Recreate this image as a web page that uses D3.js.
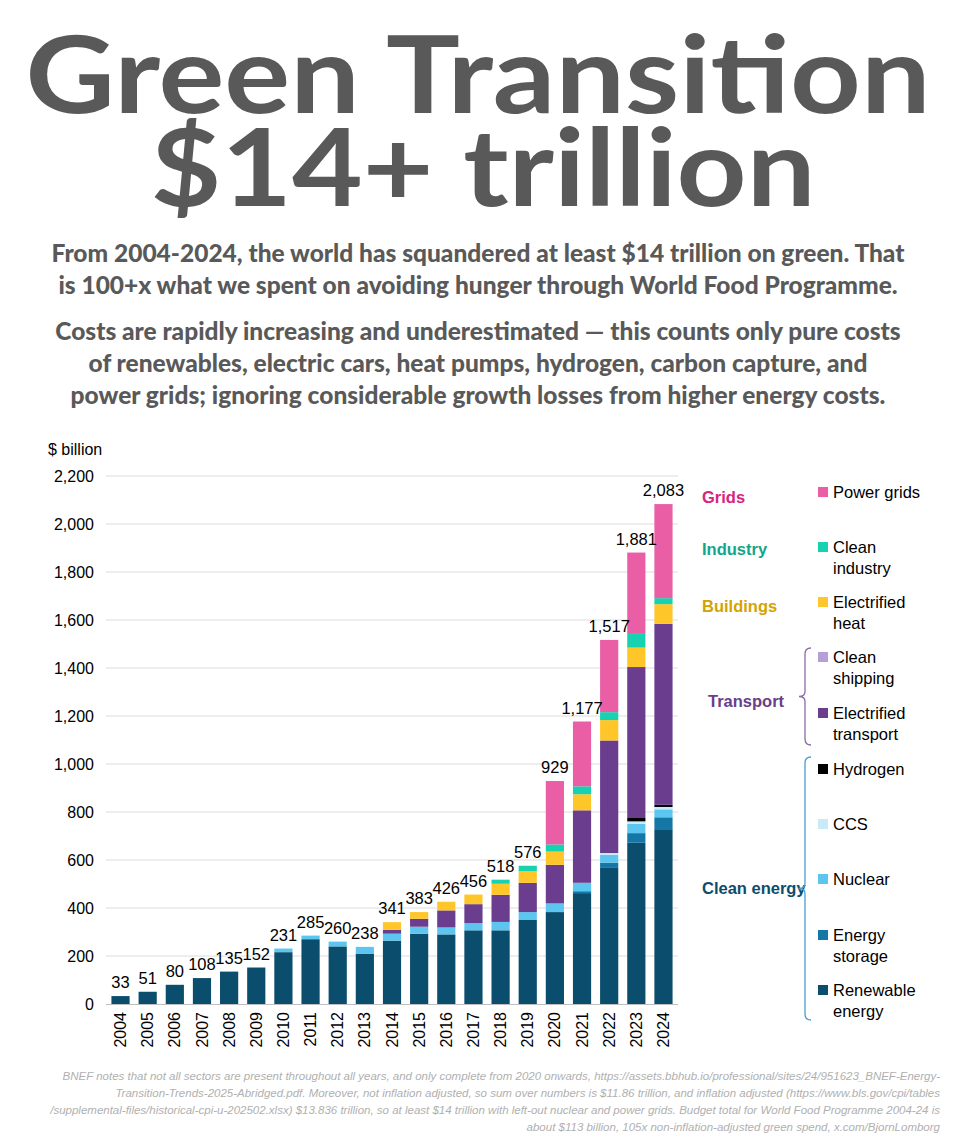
<!DOCTYPE html>
<html><head><meta charset="utf-8">
<script src="https://cdn.jsdelivr.net/npm/d3@7"></script>
<style>body{margin:0;background:#fff}</style></head>
<body><svg id="c" width="957" height="1136"></svg>
<script>
const years=["2004","2005","2006","2007","2008","2009","2010","2011","2012","2013","2014","2015","2016","2017","2018","2019","2020","2021","2022","2023","2024"];
const renewable=[33,51,80,108,135,152,216,270,240,210,264,293,290,307,307,350,383,462,567,672,725];
const storage=[0,0,0,0,0,0,0,0,0,0,0,0,0,0,0,0,0,8,22,40,53];
const nuclear=[0,0,0,0,0,0,15,15,20,28,29,29,29,30,35,33,36,35,33,39,33];
const ccs=[0,0,0,0,0,0,0,0,0,0,0,0,0,0,0,0,0,0,7,10,10];
const hydrogen=[0,0,0,0,0,0,0,0,0,0,0,0,0,0,0,0,0,0,0,14,9];
const transport=[0,0,0,0,0,0,0,0,0,0,16,33,71,79,113,122,161,302,469,629,754];
const shipping=[0,0,0,0,0,0,0,0,0,0,0,0,0,0,0,0,0,0,0,0,0];
const heat=[0,0,0,0,0,0,0,0,0,0,32,28,36,40,46,48,55,67,85,81,82];
const industry=[0,0,0,0,0,0,0,0,0,0,0,0,0,0,17,23,30,33,33,57,25];
const grids=[0,0,0,0,0,0,0,0,0,0,0,0,0,0,0,0,264,270,301,339,392];
const totals=[33,51,80,108,135,152,231,285,260,238,341,383,426,456,518,576,929,1177,1517,1881,2083];
const yTicks=[0,200,400,600,800,1000,1200,1400,1600,1800,2000,2200];
const seriesNames=["Renewable energy","Energy storage","Nuclear","CCS","Hydrogen","Electrified transport","Clean shipping","Electrified heat","Clean industry","Power grids"];
const seriesData=[renewable,storage,nuclear,ccs,hydrogen,transport,shipping,heat,industry,grids];
const colors=["#0b4d6d","#1577a5","#5cc6f0","#c9ebf7","#000000","#6a3d8e","#b59fd6","#ffc62a","#17d2b0","#ea5ea6"];

const svg=d3.select("#c");
const grey="#595959";
svg.append("text").attr("x",478).attr("y",113).attr("text-anchor","middle").attr("font-family","Lato").attr("font-weight","bold").attr("font-size",108).attr("fill",grey).attr("textLength",905).attr("lengthAdjust","spacingAndGlyphs").text("Green Transition");
svg.append("text").attr("x",483).attr("y",206).attr("text-anchor","middle").attr("font-family","Lato").attr("font-weight","bold").attr("font-size",108).attr("fill",grey).attr("textLength",665).attr("lengthAdjust","spacingAndGlyphs").text("$14+ trillion");
const sub=["From 2004-2024, the world has squandered at least $14 trillion on green. That","is 100+x what we spent on avoiding hunger through World Food Programme."];
sub.forEach((t,i)=>svg.append("text").attr("x",478).attr("y",262+i*32).attr("text-anchor","middle").attr("font-family","Lato").attr("font-weight","900").attr("font-size",24.5).attr("fill",grey).text(t));
const sub2=["Costs are rapidly increasing and underestimated — this counts only pure costs","of renewables, electric cars, heat pumps, hydrogen, carbon capture, and","power grids; ignoring considerable growth losses from higher energy costs."];
sub2.forEach((t,i)=>svg.append("text").attr("x",478).attr("y",340+i*32).attr("text-anchor","middle").attr("font-family","Lato").attr("font-weight","900").attr("font-size",24.5).attr("fill",grey).text(t));

const x=d3.scaleBand().domain(years).range([106,678]).paddingInner(0.33).paddingOuter(0.2);
const y=d3.scaleLinear().domain([0,2200]).range([1004,476]);
const g=svg.append("g");
yTicks.forEach(v=>{if(v>0)g.append("line").attr("x1",106).attr("x2",678).attr("y1",y(v)).attr("y2",y(v)).attr("stroke","#dcdcdc").attr("stroke-width",1);});
const ya=svg.append("g").attr("transform","translate(106,0)").call(d3.axisLeft(y).tickValues(yTicks).tickFormat(d3.format(",")).tickSize(0).tickPadding(12));
ya.select(".domain").remove();
ya.selectAll("text").attr("font-family","Liberation Sans, Arial").attr("font-size",16).attr("fill","#000");
svg.append("text").attr("x",48).attr("y",455).attr("font-family","Liberation Sans, Arial").attr("font-size",16).text("$ billion");

const rows=years.map((yr,i)=>{const o={year:yr};seriesNames.forEach((n,k)=>o[n]=seriesData[k][i]);return o;});
const stack=d3.stack().keys(seriesNames)(rows);
stack.forEach((s,k)=>{g.selectAll(null).data(s).enter().append("rect").attr("x",d=>x(d.data.year)).attr("width",x.bandwidth()).attr("y",d=>y(d[1])).attr("height",d=>y(d[0])-y(d[1])).attr("fill",colors[k]);});
svg.append("line").attr("x1",106).attr("x2",678).attr("y1",1004.5).attr("y2",1004.5).attr("stroke","#bfbfbf");
const xa=svg.append("g").attr("transform","translate(0,1004)").call(d3.axisBottom(x).tickSize(0).tickPadding(0));
xa.select(".domain").remove();
xa.selectAll("text").attr("font-family","Liberation Sans, Arial").attr("font-size",16).attr("fill","#000").attr("transform","rotate(-90)").attr("text-anchor","end").attr("dx","-8").attr("dy","0.35em").attr("x",0).attr("y",0);
years.forEach((yr,i)=>svg.append("text").attr("x",x(yr)+x.bandwidth()/2).attr("y",y(totals[i])-8).attr("text-anchor","middle").attr("font-family","Liberation Sans, Arial").attr("font-size",16.5).text(d3.format(",")(totals[i])));

const legend=[["Power grids",9,498],["Clean|industry",8,553],["Electrified|heat",7,608],["Clean|shipping",6,663],["Electrified|transport",5,719],["Hydrogen",4,775],["CCS",3,830],["Nuclear",2,885],["Energy|storage",1,941],["Renewable|energy",0,996]];
legend.forEach(([t,k,yy])=>{svg.append("rect").attr("x",818).attr("y",yy-11).attr("width",10).attr("height",10).attr("fill",colors[k]);
t.split("|").forEach((l,j)=>svg.append("text").attr("x",833).attr("y",yy+j*21).attr("font-family","Liberation Sans, Arial").attr("font-size",16.5).text(l));});
const cats=[["Grids",702,503,"#d6247f"],["Industry",702,555,"#13a58b"],["Buildings",702,612,"#d3a400"],["Transport",708,707,"#6a3d8e"],["Clean energy",702,894,"#0b4d6d"]];
cats.forEach(([t,xx,yy,c])=>svg.append("text").attr("x",xx).attr("y",yy).attr("font-family","Liberation Sans, Arial").attr("font-weight","bold").attr("font-size",16.5).attr("fill",c).text(t));
function brace(x0,y0,y1,c){const m=(y0+y1)/2;
svg.append("path").attr("d",`M${x0+6},${y0} Q${x0},${y0} ${x0},${y0+6} L${x0},${m-5} Q${x0},${m} ${x0-6},${m} Q${x0},${m} ${x0},${m+5} L${x0},${y1-6} Q${x0},${y1} ${x0+6},${y1}`).attr("fill","none").attr("stroke",c).attr("stroke-width",1.3);}
brace(805,648,745,"#8a6aa8");
brace(805,757,1020,"#4a9ed0");

const foot=["BNEF notes that not all sectors are present throughout all years, and only complete from 2020 onwards, https://assets.bbhub.io/professional/sites/24/951623_BNEF-Energy-","Transition-Trends-2025-Abridged.pdf. Moreover, not inflation adjusted, so sum over numbers is $11.86 trillion, and inflation adjusted (https://www.bls.gov/cpi/tables","/supplemental-files/historical-cpi-u-202502.xlsx) $13.836 trillion, so at least $14 trillion with left-out nuclear and power grids. Budget total for World Food Programme 2004-24 is","about $113 billion, 105x non-inflation-adjusted green spend, x.com/BjornLomborg"];
foot.forEach((t,i)=>svg.append("text").attr("x",940).attr("y",1080+i*17).attr("text-anchor","end").attr("font-family","Liberation Sans Narrow, Liberation Sans").attr("font-style","italic").attr("font-size",11.5).attr("fill","#b0b0b0").text(t));
</script></body></html>
